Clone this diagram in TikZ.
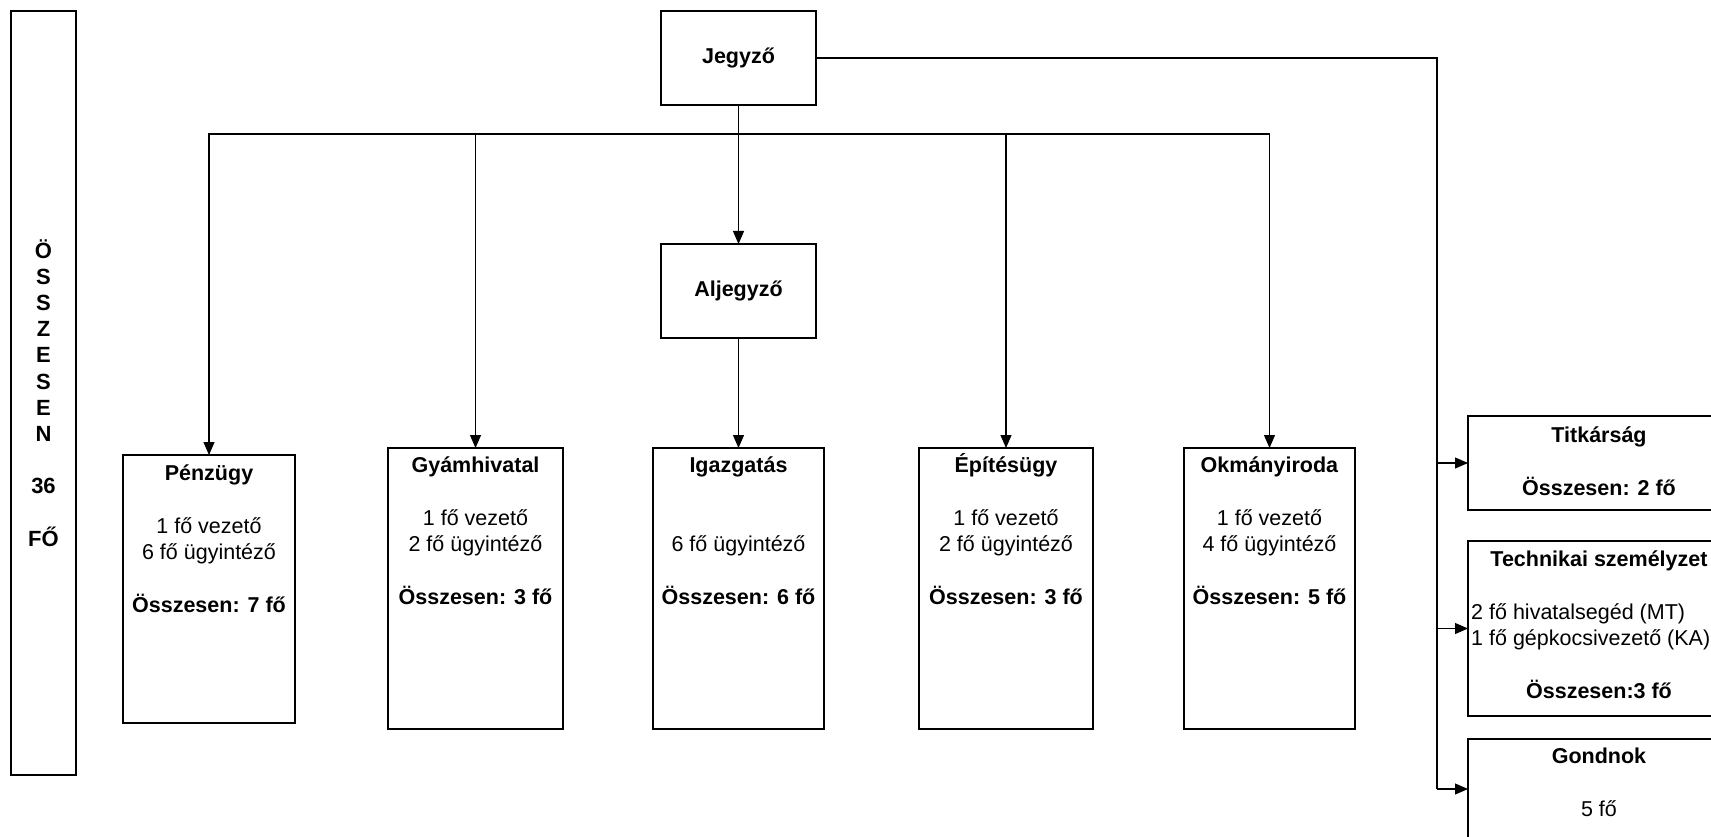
\documentclass[tikz,border=0pt]{standalone}
\usepackage{fontspec}
\setmainfont{Liberation Sans}
\usetikzlibrary{arrows.meta,calc}
\newcommand\strt{\rule{0pt}{22pt}}
\begin{document}
\begin{tikzpicture}[x=1pt,y=-1pt,
  box/.style={draw=black, line width=1.1pt, rectangle, inner sep=0pt, outer sep=0pt, anchor=north west, fill=white,
              font=\fontsize{21.5}{26.5}\selectfont\bfseries},
  txt/.style={inner sep=0pt, align=center, anchor=north, font=\fontsize{21.5}{26.5}\selectfont},
  conn/.style={draw=black, line width=1.1pt},
  arr/.style={conn, -{Triangle[length=13pt,width=11pt]}},
]
\useasboundingbox (0,0) rectangle (1711,837);
\fill[white] (0,0) rectangle (1711,837);

% left summary box
\node[box, minimum width=65pt, minimum height=764pt] (ossz) at (11,11) {};
\node[txt, anchor=center, font=\fontsize{22}{26.2}\selectfont\bfseries] (ossz-t) at (ossz.center)
  {Ö\\S\\S\\Z\\E\\S\\E\\N\\ ~\\36\\ ~\\FŐ};

% top boxes
\node[box, minimum width=155pt, minimum height=94pt] (jegyzo) at (661,11) {Jegyző};
\node[box, minimum width=155pt, minimum height=94pt] (aljegyzo) at (661,244) {Aljegyző};

% department boxes
\node[box, minimum width=172pt, minimum height=268pt] (penz) at (123,455) {};
\node[box, minimum width=175pt, minimum height=281pt] (gyam) at (388,448) {};
\node[box, minimum width=171pt, minimum height=281pt] (igaz) at (653,448) {};
\node[box, minimum width=174pt, minimum height=281pt] (epit) at (919,448) {};
\node[box, minimum width=171pt, minimum height=281pt] (okm) at (1184,448) {};

\node[txt] (penz-t) at ([yshift=-3pt]penz.north)
  {\strt\textbf{Pénzügy}\\ ~\\1 fő vezető\\6 fő ügyintéző\\ ~\\\textbf{Összesen: 7 fő}};
\node[txt] (gyam-t) at ([yshift=-2pt]gyam.north)
  {\strt\textbf{Gyámhivatal}\\ ~\\1 fő vezető\\2 fő ügyintéző\\ ~\\\textbf{Összesen: 3 fő}};
\node[txt] (igaz-t) at ([yshift=-2pt]igaz.north)
  {\strt\textbf{Igazgatás}\\ ~\\ ~\\6 fő ügyintéző\\ ~\\\textbf{Összesen: 6 fő}};
\node[txt] (epit-t) at ([yshift=-2pt]epit.north)
  {\strt\textbf{Építésügy}\\ ~\\1 fő vezető\\2 fő ügyintéző\\ ~\\\textbf{Összesen: 3 fő}};
\node[txt] (okm-t) at ([yshift=-2pt]okm.north)
  {\strt\textbf{Okmányiroda}\\ ~\\1 fő vezető\\4 fő ügyintéző\\ ~\\\textbf{Összesen: 5 fő}};

% right boxes (cut by the page edge)
\node[box, minimum width=262pt, minimum height=94pt] (titk) at (1468,416) {};
\node[box, minimum width=262pt, minimum height=175pt] (tech) at (1468,541) {};
\node[box, minimum width=262pt, minimum height=100pt] (gond) at (1468,739) {};

\node[txt] (titk-t) at ([yshift=-4pt]titk.north)
  {\strt\textbf{Titkárság}\\ ~\\\textbf{Összesen: 2 fő}};
\node[txt] (tech-t) at ([yshift=-3pt]tech.north)
  {\strt\textbf{Technikai személyzet}\\ ~\\ ~\\ ~\\ ~\\\textbf{Összesen:3 fő}};
\node[txt, anchor=north west, align=left] (tech-b) at ([xshift=3pt,yshift=-56pt]tech.north west)
  {\strt 2 fő hivatalsegéd (MT)\\1 fő gépkocsivezető (KA)};
\node[txt] (gond-t) at ([yshift=-2pt]gond.north)
  {\strt\textbf{Gondnok}\\ ~\\5 fő};

% connectors
\coordinate (bus) at (738.5,134);
\coordinate (rx) at (1437,0);
\draw[conn] (jegyzo.south) -- (bus);
\draw[arr] (bus) -- (aljegyzo.north);
\draw[arr] (bus) -| (penz.north);
\draw[arr] (bus) -| (gyam.north);
\draw[arr] (bus) -| (epit.north);
\draw[arr] (bus) -| (okm.north);
\draw[arr] (aljegyzo.south) -- (igaz.north);

\draw[conn] (jegyzo.east) -| (rx |- gond.west);
\draw[arr] (rx |- titk.west) -- (titk.west);
\draw[arr] (rx |- tech.west) -- (tech.west);
\draw[arr] (rx |- gond.west) -- (gond.west);
\end{tikzpicture}
\end{document}
